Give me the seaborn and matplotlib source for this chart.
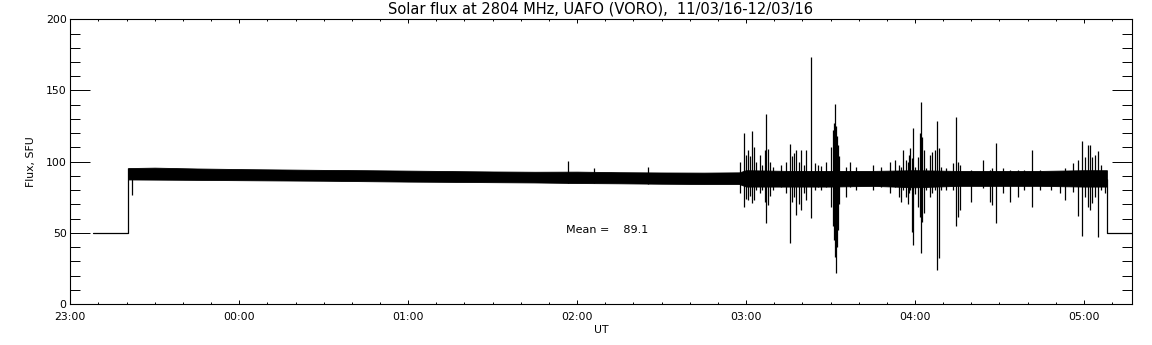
import numpy as np
import pandas as pd
import matplotlib
matplotlib.use('Agg')
import matplotlib.pyplot as plt
from matplotlib.ticker import MultipleLocator
import seaborn as sns

# time is in hours after 23:00 UT
tick_labels = ['23:00', '00:00', '01:00', '02:00', '03:00', '04:00', '05:00']
mean_flux = 89.1

# flat 50 SFU parts before / after the record
pre_t = [0.136, 0.343]
pre_v = [50, 50]
post_t = [6.136, 6.283]
post_v = [50, 50]

# envelope of the noise band
band_t = [0.343, 0.5, 0.75, 1.0, 1.25, 1.5, 1.75, 2.0, 2.25, 2.5, 2.75, 3.0,
          3.25, 3.5, 3.75, 3.96, 4.0, 4.25, 4.5, 4.75, 5.0, 5.25, 5.5, 5.75,
          6.0, 6.136]
band_hi = [95.5, 95.8, 95.2, 94.8, 94.5, 94.2, 94.0, 93.7, 93.4, 93.1, 92.9,
           93.0, 92.6, 92.4, 92.3, 92.5, 94.0, 93.5, 93.5, 93.5, 94.0, 93.5,
           93.5, 93.5, 94.0, 94.0]
band_lo = [87.5, 87.4, 87.2, 87.0, 86.8, 86.6, 86.3, 86.0, 85.8, 85.6, 85.4,
           85.0, 84.8, 84.5, 84.3, 84.3, 82.5, 82.5, 82.5, 83.0, 82.0, 83.0,
           83.0, 83.0, 82.5, 82.5]

# single spikes (time, max, min)
spike_t = [0.343, 0.363, 2.945, 3.10, 3.42,
           3.963, 3.988, 4.002, 4.012, 4.026, 4.036, 4.047, 4.061, 4.083, 4.097,
           4.110, 4.118, 4.130, 4.144, 4.160, 4.209, 4.235, 4.259, 4.272, 4.284,
           4.298, 4.314, 4.328, 4.343, 4.357, 4.383, 4.407, 4.426, 4.446, 4.472,
           4.505, 4.515, 4.521, 4.525, 4.531, 4.537, 4.543, 4.550, 4.590, 4.614,
           4.649, 4.752, 4.801, 4.850, 4.880, 4.904, 4.920, 4.929, 4.949, 4.959,
           4.965, 4.969, 4.982, 4.988, 4.998, 5.018, 5.032, 5.038, 5.044, 5.052,
           5.067, 5.087, 5.101, 5.117, 5.130, 5.142, 5.156, 5.186, 5.225, 5.241,
           5.255, 5.265, 5.334, 5.402, 5.442, 5.458, 5.482, 5.521, 5.560, 5.609,
           5.643, 5.692, 5.738, 5.807, 5.856, 5.886, 5.935, 5.964, 5.988, 6.004,
           6.024, 6.038, 6.050, 6.063, 6.083, 6.103, 6.122]
spike_hi = [95.5, 95.0, 100.4, 95.3, 96.4,
            100.0, 119.9, 105.0, 108.0, 104.0, 121.5, 110.0, 100.0, 104.7, 98.0,
            108.0, 133.5, 108.9, 100.0, 96.0, 98.0, 100.0, 112.4, 104.0, 106.0,
            108.0, 100.0, 108.0, 98.0, 108.0, 173.7, 99.0, 98.0, 97.0, 100.0,
            110.0, 122.0, 127.0, 140.5, 125.0, 118.0, 112.0, 104.0, 96.0, 100.0,
            96.0, 98.0, 96.0, 100.0, 101.0, 98.0, 96.5, 108.0, 101.0, 100.0,
            105.0, 109.4, 102.3, 123.4, 96.5, 103.5, 119.9, 141.7, 117.5, 108.2,
            95.3, 104.7, 107.0, 108.2, 128.6, 109.4, 96.5, 95.3, 98.8, 131.2,
            100.0, 97.6, 94.1, 101.2, 94.1, 95.3, 113.3, 95.3, 94.1, 94.1,
            94.1, 108.2, 94.1, 92.9, 92.9, 95.3, 98.8, 101.2, 114.5, 103.5,
            111.7, 111.7, 103.5, 104.7, 107.5, 97.6, 91.8]
spike_lo = [50.0, 76.5, 85.0, 85.0, 84.5,
            78.0, 68.4, 74.0, 73.0, 76.0, 70.7, 73.0, 80.0, 78.0, 80.0,
            72.0, 56.7, 69.5, 76.0, 80.0, 82.0, 78.0, 42.6, 72.0, 75.0,
            62.5, 70.0, 66.0, 78.0, 73.0, 60.2, 80.0, 82.0, 80.0, 82.0,
            68.0, 55.0, 45.0, 33.0, 21.6, 40.0, 52.0, 70.0, 75.4, 82.0,
            80.0, 80.0, 82.0, 78.0, 82.0, 75.0, 71.9, 80.0, 75.4, 70.0,
            78.0, 80.1, 50.8, 41.4, 77.0, 68.4, 61.3, 35.6, 57.8, 63.7,
            80.1, 75.4, 77.8, 80.1, 23.9, 32.1, 80.1, 80.1, 80.1, 54.8,
            61.3, 66.0, 71.9, 81.3, 71.9, 69.5, 56.7, 77.8, 71.9, 75.4,
            80.1, 68.4, 80.1, 80.1, 77.8, 73.1, 78.9, 61.8, 48.0, 75.4,
            68.4, 66.0, 70.7, 75.4, 47.3, 80.1, 77.8]

sns.set_style('ticks', {'axes.edgecolor': 'black', 'text.color': 'black',
                        'xtick.color': 'black', 'ytick.color': 'black',
                        'axes.labelcolor': 'black'})
plt.rcParams['font.family'] = ['DejaVu Sans']

fig = plt.figure(figsize=(11.52, 3.45), dpi=100)
ax = fig.add_axes([0.0610, 0.1188, 0.9214, 0.8252])

lw = 0.9
sns.lineplot(x=pre_t, y=pre_v, ax=ax, color='black', lw=lw, estimator=None)
sns.lineplot(x=post_t, y=post_v, ax=ax, color='black', lw=lw, estimator=None)
ax.fill_between(band_t, band_lo, band_hi, color='black', lw=0.6)
ax.vlines(spike_t, spike_lo, spike_hi, color='black', lw=lw)
# drop back to 50 at the end
ax.vlines([post_t[0]], [post_v[0]], [band_hi[-1] - 6], color='black', lw=lw)

ax.text(2.937, 52.2, 'Mean =    %.1f' % mean_flux, ha='left', va='center',
        fontsize=8, color='black')

ax.set_xlim(0, 6.283)
ax.set_ylim(0, 200)
ax.set_xticks(range(len(tick_labels)))
ax.set_xticklabels(tick_labels)
ax.xaxis.set_minor_locator(MultipleLocator(1 / 6))
ax.set_yticks([0, 50, 100, 150, 200])
ax.yaxis.set_minor_locator(MultipleLocator(10))

ax.tick_params(axis='x', which='major', direction='in', length=3.2, width=0.7,
               top=True, bottom=True, pad=6, labelsize=7.8, colors='black')
ax.tick_params(axis='x', which='minor', direction='in', length=1.6, width=0.7,
               top=True, bottom=True, colors='black')
ax.tick_params(axis='y', which='major', direction='in', length=14.4, width=0.7,
               left=True, right=True, pad=2.6, labelsize=7.8, colors='black')
ax.tick_params(axis='y', which='minor', direction='in', length=7.2, width=0.7,
               left=True, right=True, colors='black')
for s in ax.spines.values():
    s.set_linewidth(0.8)
    s.set_color('black')
    s.set_visible(True)

ax.set_title('Solar flux at 2804 MHz, UAFO (VORO),  11/03/16-12/03/16',
             fontsize=10.5, pad=4, color='black')
ax.set_xlabel('UT', fontsize=7.8, labelpad=2, color='black')
ax.set_ylabel('Flux, SFU', fontsize=7.8, labelpad=7, color='black')

fig.savefig('out.png', dpi=100, facecolor='white')
